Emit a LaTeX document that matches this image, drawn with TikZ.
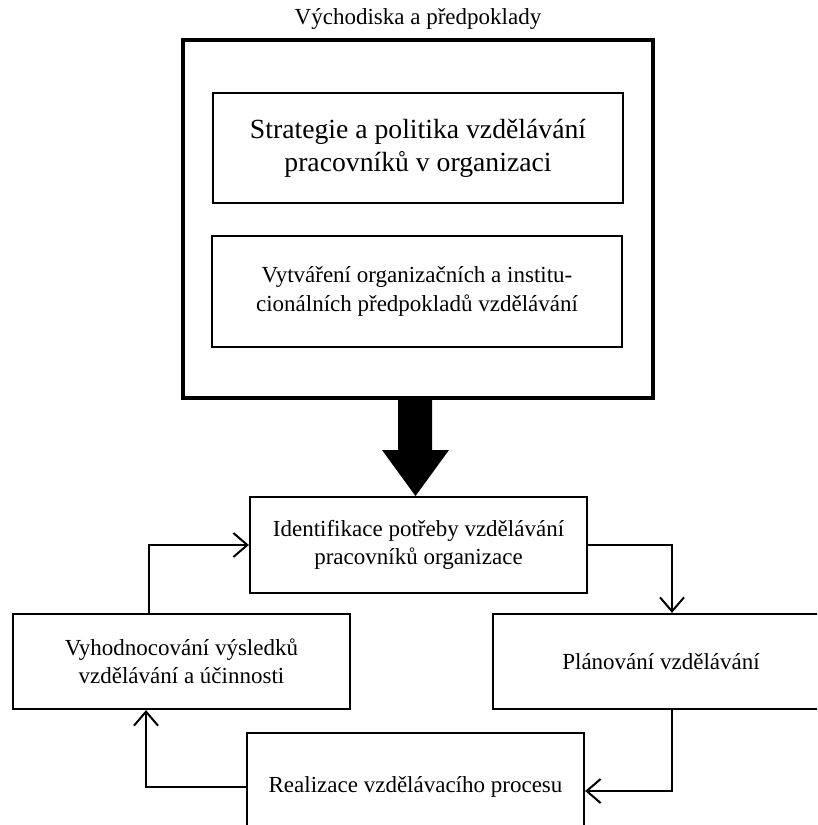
\documentclass[tikz,border=0pt]{standalone}
\usepackage{fontspec}
\setmainfont{Liberation Serif}
\usetikzlibrary{arrows.meta}
\tikzset{
  box/.style={draw, line width=2.2pt, rectangle, inner sep=0pt, align=center,
    font=\fontsize{23}{28.5}\selectfont},
  bigbox/.style={draw, line width=4.5pt, rectangle, inner sep=0pt},
  conn/.style={line width=2pt, -{Straight Barb[length=14pt,width=24pt,line width=2pt]}},
}
\begin{document}
\begin{tikzpicture}[x=1pt,y=1pt]
\useasboundingbox (0,0) rectangle (817,-825);
\clip (0,0) rectangle (817,-825);
\node[font=\fontsize{23}{28}\selectfont, inner sep=0pt] (title) at (418,-19) {Východiska a předpoklady};
\node[bigbox, minimum width=470pt, minimum height=358pt] (outer) at (418,-219) {};
\node[box, minimum width=410pt, minimum height=110pt, font=\fontsize{27.7}{33}\selectfont] (strat) at (418,-148) {Strategie a politika vzdělávání\\pracovníků v organizaci};
\node[box, minimum width=410pt, minimum height=111pt] (vytv) at (417,-291.5) {Vytváření organizačních a institu-\\cionálních předpokladů vzdělávání};
\fill (398,-398) -- (432,-398) -- (432,-450) -- (449,-450) -- (415.5,-496) -- (382,-450) -- (398,-450) -- cycle;
\node[box, minimum width=337pt, minimum height=96pt] (ident) at (418.5,-545) {Identifikace potřeby vzdělávání\\pracovníků organizace};
\node[box, minimum width=337pt, minimum height=95pt] (eval) at (181.5,-661.5) {Vyhodnocování výsledků\\vzdělávání a účinnosti};
\node[box, minimum width=336pt, minimum height=95pt] (plan) at (661,-661.5) {Plánování vzdělávání};
\node[box, minimum width=337pt, minimum height=108pt] (real) at (415.5,-787) {Realizace vzdělávacího procesu};
\draw[conn] (ident.east) -| ([xshift=11pt]plan.north);
\draw[conn] ([xshift=11pt]plan.south) |- ([yshift=-4pt]real.east);
\draw[conn] (real.west) -| ([xshift=-35.5pt]eval.south);
\draw[conn] ([xshift=-32.5pt]eval.north) |- (ident.west);
\end{tikzpicture}
\end{document}
